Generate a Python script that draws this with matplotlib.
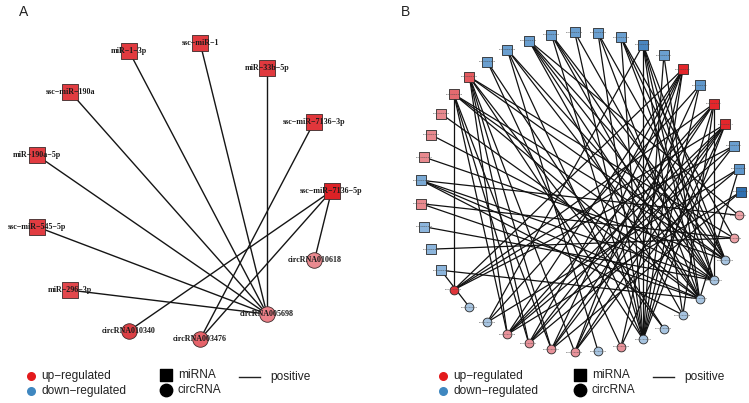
import numpy as np
import matplotlib.pyplot as plt

# ---- panel A: nodes in circular-layout order (counter-clockwise from the right) ----
a_names = ['ssc−miR−7136−5p', 'ssc−miR−7136−3p', 'miR−33b−5p', 'ssc−miR−1', 'miR−1−3p',
           'ssc−miR−190a', 'miR−190a−5p', 'ssc−miR−545−5p', 'miR−296−3p',
           'circRNA010340', 'circRNA003476', 'circRNA005698', 'circRNA010618']
a_types = ['miRNA'] * 9 + ['circRNA'] * 4
a_colors = ['#dc2226', '#e0363b', '#e0393e', '#e13a3f', '#e13a3f', '#e13c41', '#e13c41',
            '#e13c41', '#e2474c', '#dc4045', '#e6636a', '#ec8088', '#ea8a90']
a_edges = [('miR−1−3p', 'circRNA005698'), ('ssc−miR−1', 'circRNA005698'),
           ('miR−33b−5p', 'circRNA005698'), ('ssc−miR−190a', 'circRNA005698'),
           ('miR−190a−5p', 'circRNA005698'), ('ssc−miR−545−5p', 'circRNA005698'),
           ('miR−296−3p', 'circRNA005698'), ('ssc−miR−7136−3p', 'circRNA003476'),
           ('ssc−miR−7136−5p', 'circRNA003476'), ('ssc−miR−7136−5p', 'circRNA010340'),
           ('ssc−miR−7136−5p', 'circRNA010618')]

# ---- panel B: 26 miRNAs then 17 circRNAs, circular-layout order ----
b_types = ['miRNA'] * 26 + ['circRNA'] * 17
b_colors = ['#2f70b0', '#5f97cb', '#6a9fd0', '#e3262b', '#e3262b', '#5f97cb', '#e3262b',
            '#6a9fd0', '#4a86c0', '#6a9fd0', '#6a9fd0', '#6a9fd0', '#6a9fd0', '#6a9fd0',
            '#6a9fd0', '#6a9fd0', '#e45a5f', '#e46a6f', '#e8898e', '#e8898e', '#e8898e',
            '#7aa9d4', '#e8898e', '#8cb5dc', '#8cb5dc', '#8cb5dc',
            '#e0353a', '#a7c4e0', '#a7c4e0', '#e8929a', '#e8929a', '#e8929a', '#e8929a',
            '#a7c4e0', '#e8929a', '#a7c4e0', '#a7c4e0', '#a7c4e0', '#a7c4e0', '#a7c4e0',
            '#a7c4e0', '#eea3a8', '#eea3a8']
b_labels = ['novel−miR−%d' % i for i in range(1, 27)] + \
           ['circRNA0%05d' % v for v in [3105, 1872, 4460, 2298, 6031, 1157, 8342, 512,
                                        7793, 9014, 2650, 4418, 3327, 5561, 7120, 9903, 1284]]
b_edges = [(0, 29), (0, 31), (1, 28), (1, 30), (1, 38), (2, 26), (2, 29), (2, 32),
           (3, 26), (3, 29), (3, 30), (3, 31), (3, 32), (3, 34), (3, 35),
           (4, 26), (4, 29), (4, 30), (4, 31), (4, 35), (4, 37), (4, 39),
           (5, 28), (5, 32), (5, 35),
           (6, 26), (6, 29), (6, 30), (6, 31), (6, 32), (6, 34), (6, 35),
           (7, 35), (7, 38), (8, 28), (8, 35), (8, 37), (8, 38), (8, 39), (8, 40),
           (9, 35), (9, 39), (9, 40), (9, 41), (10, 35), (10, 38), (10, 40),
           (11, 35), (11, 39), (12, 35), (12, 38), (12, 39), (12, 40),
           (13, 37), (13, 38), (13, 39), (13, 40), (13, 42), (14, 33), (14, 35), (14, 38),
           (14, 39), (15, 34), (15, 36),
           (16, 29), (16, 30), (16, 31), (16, 32), (16, 35), (16, 36), (16, 40), (16, 41),
           (17, 26), (17, 29), (17, 30), (17, 31), (17, 38), (17, 39), (17, 40),
           (18, 38), (19, 39), (20, 40), (21, 37), (21, 38), (21, 39), (21, 42),
           (22, 38), (22, 41), (23, 39), (24, 41), (25, 27), (25, 38)]


def circle_layout(n, cx, cy, r):
    ang = np.deg2rad(np.arange(n) * 360.0 / n)
    return cx + r * np.cos(ang), cy - r * np.sin(ang)


fig = plt.figure(figsize=(7.49, 4.03), dpi=100)
ax = fig.add_axes([0, 0, 1, 1])
ax.set_xlim(0, 749)
ax.set_ylim(403, 0)
ax.axis('off')

# panel A
ax_x, ax_y = circle_layout(len(a_names), 182, 191, 149.5)
idx = {name: i for i, name in enumerate(a_names)}
for s, t in a_edges:
    i, j = idx[s], idx[t]
    ax.plot([ax_x[i], ax_x[j]], [ax_y[i], ax_y[j]], color='#151515', lw=1.0, zorder=1)
for i, name in enumerate(a_names):
    m = 's' if a_types[i] == 'miRNA' else 'o'
    ax.scatter(ax_x[i], ax_y[i], s=125, marker=m, color=a_colors[i],
               edgecolor='#3a2a2a', linewidth=0.6, zorder=2)
    ax.text(ax_x[i], ax_y[i], name, ha='center', va='center', fontsize=5.8,
            fontweight='bold', family='Liberation Serif', color='#1a1a1a', zorder=3)

# panel B
bx, by = circle_layout(len(b_types), 580.5, 192, 160)
for s, t in b_edges:
    ax.plot([bx[s], bx[t]], [by[s], by[t]], color='#111111', lw=0.9, zorder=1)
for i in range(len(b_types)):
    m = 's' if b_types[i] == 'miRNA' else 'o'
    sz = 48 if m == 's' else 40
    ax.scatter(bx[i], by[i], s=sz, marker=m, color=b_colors[i],
               edgecolor='#2a2a2a', linewidth=0.6, zorder=2)
    ax.text(bx[i], by[i], b_labels[i], ha='center', va='center', fontsize=1.6,
            color='#444444', zorder=3)

# panel letters
fig.text(19 / 749, 1 - 12 / 403, 'A', fontsize=10, va='center', ha='left',
         family='Liberation Sans', color='#222222')
fig.text(401 / 749, 1 - 12 / 403, 'B', fontsize=10, va='center', ha='left',
         family='Liberation Sans', color='#222222')

# legends
lf = dict(fontsize=8.6, va='center', color='#222222', family='Liberation Sans')
for x0 in [31, 443]:
    ax.scatter([x0], [376], s=30, color='#e31a1c', zorder=2)
    ax.scatter([x0], [391], s=30, color='#3f87c0', zorder=2)
    ax.text(x0 + 10, 376, 'up−regulated', **lf)
    ax.text(x0 + 10, 391, 'down−regulated', **lf)
    sx = x0 + 135 if x0 == 31 else x0 + 137
    ax.scatter([sx], [375], s=70, marker='s', color='black', zorder=2)
    ax.scatter([sx], [390], s=80, marker='o', color='black', zorder=2)
    ax.text(sx + 12, 375, 'miRNA', **lf)
    ax.text(sx + 12, 390, 'circRNA', **lf)
    lx = sx + 73
    ax.plot([lx, lx + 21], [377, 377], color='#222222', lw=1.0)
    ax.text(lx + 31, 377, 'positive', **lf)

fig.savefig('out.png', dpi=100)
